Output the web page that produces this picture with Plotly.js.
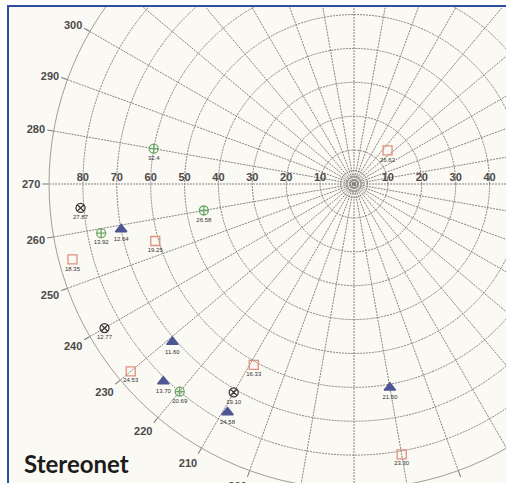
<!DOCTYPE html>
<html><head><meta charset="utf-8">
<script src="https://cdn.plot.ly/plotly-3.0.1.min.js"></script>
<style>
html,body{margin:0;padding:0;width:506px;height:483px;overflow:hidden;background:#fff;}
#frame{position:absolute;left:7px;top:5px;width:499px;height:478px;border-top:2px solid #2d4d9e;border-left:2px solid #2d4d9e;overflow:hidden;background:#fbf9f3;}
#plot{position:absolute;left:-35px;top:-203px;width:760px;height:760px;}
</style></head><body><div id="frame"><div id="plot"></div></div>
<script>
// Data (plunge r, azimuth theta, label)
const greenR = [60, 45, 76, 80];
const greenT = [280, 260, 259, 220];
const greenL = ["32.4", "26.58", "13.92", "20.69"];

const blackR = [81, 85, 71];
const blackT = [265, 240, 210];
const blackL = ["27.87", "12.77", "19.10"];

const blueR = [70, 71, 81, 77, 61];
const blueT = [259, 229, 224, 209, 170];
const blueL = ["12.64", "11.60", "13.70", "24.58", "21.50"];

const redR = [14, 61, 86, 61, 86, 81];
const redT = [45, 254, 255, 209, 230, 170];
const redL = ["26.62", "19.25", "18.35", "16.33", "24.53", "23.30"];

const leftTickR = [10, 20, 30, 40, 50, 60, 70, 80];
const rightTickR = [10, 20, 30, 40];
const ringVals = [1.2, 2.4, 4, 10, 20, 30, 40, 50, 60, 70, 80];
const azimuthTicks = [0,10,20,30,40,50,60,70,80,90,100,110,120,130,140,150,160,170,180,190,200,210,220,230,240,250,260,270,280,290,300,310,320,330,340,350];
const azimuthText = ["","","","","","","","","","","","","","","","","","","","","200","210","220","230","240","250","260","270","280","290","300","","","","",""];

const labelFont = {family: "Liberation Sans, Arial, sans-serif", size: 6, color: "#333"};
function series(r, t, txt, sym, col, size) {
  return {type: "scatterpolar", mode: "markers+text", r: r, theta: t, text: txt,
    textposition: "bottom center", textfont: labelFont, cliponaxis: false,
    marker: {symbol: sym, size: size, color: col, line: {color: col, width: 1.3}}, hoverinfo: "skip"};
}
const tickFont = {family: "Liberation Sans, Arial, sans-serif", size: 11, color: "#4a4a4a", weight: "bold"};
const traces = [
  series(greenR, greenT, greenL, "circle-cross-open", "#6aa866", 9),
  series(blackR, blackT, blackL, "circle-x-open", "#3a3a3a", 9),
  series(blueR, blueT, blueL, "triangle-up", "#4d5694", 10),
  series(redR, redT, redL, "square-open", "#e0907e", 9),
  {type: "scatterpolar", mode: "text", r: leftTickR, theta: leftTickR.map(() => 270),
   text: leftTickR.map(String), textposition: "top center", textfont: tickFont, hoverinfo: "skip", cliponaxis: false},
  {type: "scatterpolar", mode: "text", r: rightTickR, theta: rightTickR.map(() => 90),
   text: rightTickR.map(String), textposition: "top center", textfont: tickFont, hoverinfo: "skip", cliponaxis: false}
];
const gridCol = "#878380";
const layout = {
  width: 760, height: 760,
  margin: {l: 75, r: 75, t: 75, b: 75},
  paper_bgcolor: "rgba(0,0,0,0)",
  showlegend: false,
  hovermode: false,
  polar: {
    domain: {x: [0, 1], y: [0, 1]},
    bgcolor: "rgba(0,0,0,0)",
    radialaxis: {range: [0, 90], tickmode: "array", tickvals: ringVals, showticklabels: false,
      ticks: "", showline: false, gridcolor: gridCol, griddash: "2px,1px", gridwidth: 1},
    angularaxis: {rotation: 90, direction: "clockwise", tickmode: "array", tickvals: azimuthTicks, ticktext: azimuthText,
      ticksuffix: "", showline: true, linecolor: "#a19d99", linewidth: 1,
      gridcolor: gridCol, griddash: "2px,1px", gridwidth: 1,
      ticks: "outside", ticklen: 6, tickcolor: "#777", tickfont: tickFont}
  },
  annotations: [{xref: "paper", yref: "paper", x: -0.0443, y: 0.042, xanchor: "left", yanchor: "middle",
    text: "<b>Stereonet</b>", showarrow: false,
    font: {family: "Lato, Open Sans, sans-serif", size: 24, color: "#1c1c1c"}}]
};
Plotly.newPlot("plot", traces, layout, {displayModeBar: false, staticPlot: true});
</script></body></html>
